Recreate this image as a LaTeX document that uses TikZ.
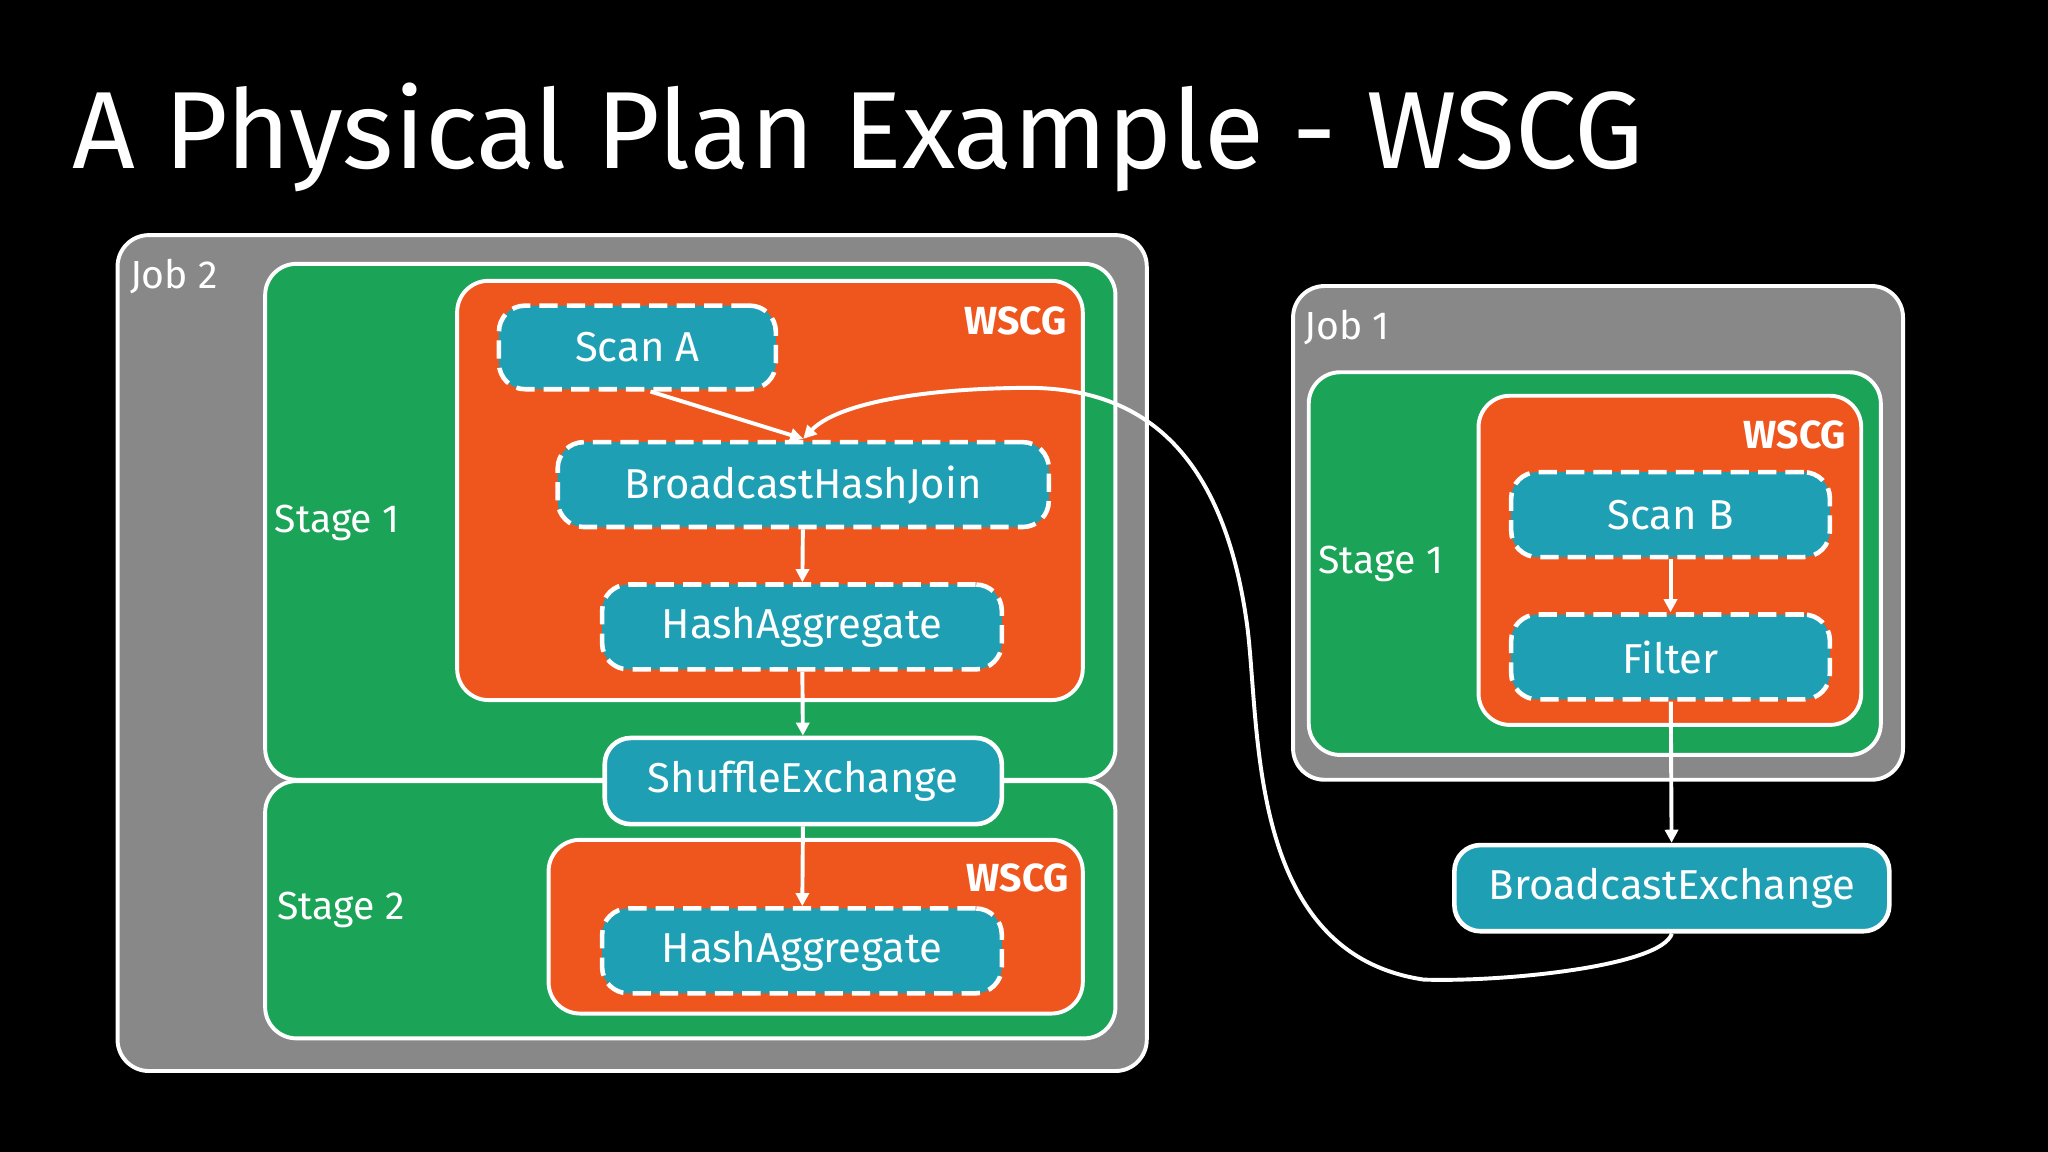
\documentclass[tikz,border=0pt]{standalone}
\usepackage{fontspec}
\setmainfont{Fira Sans}
\usetikzlibrary{arrows.meta}
\definecolor{grayb}{HTML}{888888}
\definecolor{greenb}{HTML}{1BA457}
\definecolor{orangeb}{HTML}{EF561E}
\definecolor{tealb}{HTML}{1E9FB4}
\begin{document}
\begin{tikzpicture}[x=1pt,y=-1pt,
  box/.style={draw=white,line width=3pt,rounded corners=24pt},
  op/.style={draw=white,line width=3.5pt,fill=tealb,rounded corners=20pt,text=white,font=\fontsize{32}{36}\selectfont},
  dop/.style={op,dash pattern=on 14pt off 7pt},
  lab/.style={text=white,font=\fontsize{30}{34}\selectfont,anchor=west},
  wl/.style={text=white,font=\fontsize{30}{34}\selectfont\bfseries,anchor=east},
  arr/.style={draw=white,line width=3pt,-{Triangle[length=10pt,width=10pt]}}]
\fill[black] (0,0) rectangle (1568,882);
\useasboundingbox (0,0) rectangle (1568,882);
\node[text=white,anchor=west,font=\fontsize{84}{90}\selectfont] (title) at (52,105) {A Physical Plan Example - WSCG};
% Job 2
\draw[box,fill=grayb] (90,180) rectangle (878,820);
\node[lab] (j2) at (96,212) {Job 2};
\draw[box,fill=greenb] (203,202) rectangle (854,597);
\draw[box,fill=greenb] (203,598) rectangle (854,795);
\node[lab] (s1) at (207,400) {Stage 1};
\node[lab] (s2) at (209,697) {Stage 2};
\draw[box,fill=orangeb] (350,215) rectangle (829,536);
\node[wl] (w1) at (820,246) {WSCG};
\draw[box,fill=orangeb] (420,643) rectangle (829,776);
\node[wl] (w2) at (822,672) {WSCG};
\node[dop,minimum width=212pt,minimum height=64pt] (scana) at (488,266) {Scan A};
\node[dop,minimum width=376pt,minimum height=65pt] (bhj) at (615,371) {BroadcastHashJoin};
\node[dop,minimum width=306pt,minimum height=65pt] (ha) at (614,480) {HashAggregate};
\node[op,minimum width=304pt,minimum height=66pt] (se) at (615,598) {ShuffleExchange};
\node[dop,minimum width=306pt,minimum height=65pt] (ha2) at (614,728) {HashAggregate};
% Job 1
\draw[box,fill=grayb] (990,219) rectangle (1457,597);
\node[lab] (j1) at (995,251) {Job 1};
\draw[box,fill=greenb] (1002,285) rectangle (1440,578);
\node[lab] (s1b) at (1006,432) {Stage 1};
\draw[box,fill=orangeb] (1132,303) rectangle (1425,555);
\node[wl] (w3) at (1417,333) {WSCG};
\node[dop,minimum width=244pt,minimum height=65pt] (scanb) at (1279,394) {Scan B};
\node[dop,minimum width=244pt,minimum height=65pt] (filt) at (1279,503) {Filter};
\node[op,minimum width=333pt,minimum height=66pt] (be) at (1280,680) {BroadcastExchange};
% arrows
\coordinate (jt) at (615,336);
\draw[arr] (scana.south) ++(10,0) -- (jt);
\draw[arr] (bhj) -- (ha);
\draw[arr] (ha) -- (se);
\draw[arr] (se) -- (ha2);
\draw[arr] (scanb) -- (filt);
\draw[arr] (filt) -- (be);
\draw[arr] (be.south) .. controls (1272,740) and (1150,752) .. (1090,750)
  .. controls (955,730) and (965,560) .. (955,480)
  .. controls (935,330) and (860,295) .. (780,297)
  .. controls (700,298) and (640,310) .. (jt);
\end{tikzpicture}
\end{document}
